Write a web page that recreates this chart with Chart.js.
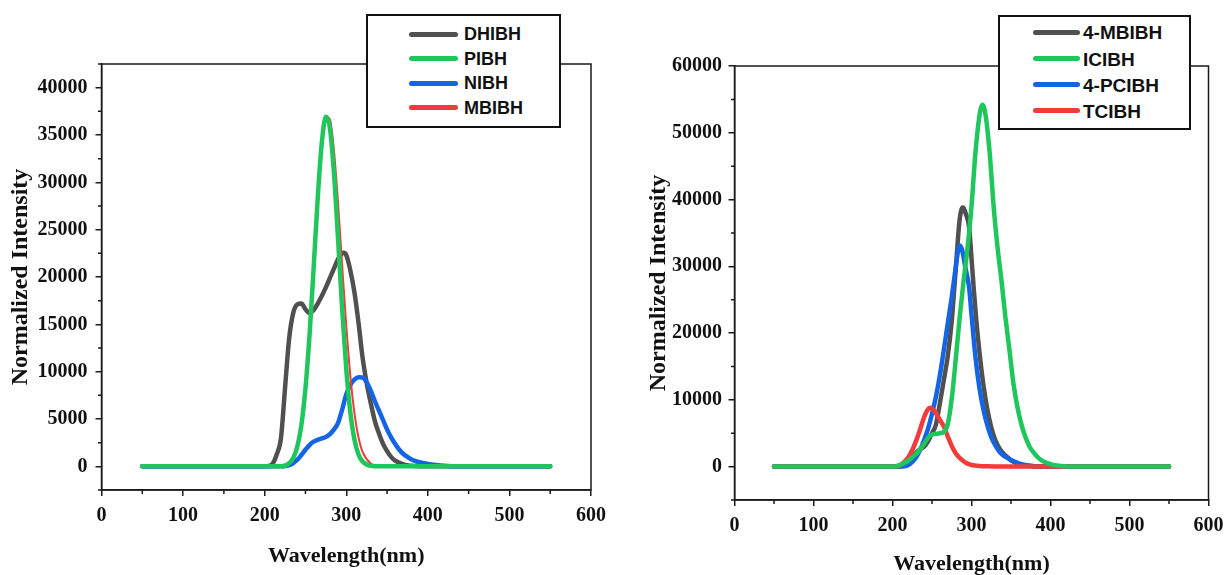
<!DOCTYPE html>
<html>
<head>
<meta charset="utf-8">
<script src="https://cdn.jsdelivr.net/npm/chart.js@4.4.1/dist/chart.umd.min.js"></script>
<style>
  body { margin: 0; background: #fff; width: 1231px; height: 575px; overflow: hidden; position: relative; }
  canvas { position: absolute; top: 0; }
  .legend { position: absolute; background: #fff; border: 2px solid #111; box-sizing: border-box;
            font-family: "Liberation Sans", Arial, sans-serif; font-weight: bold; color: #111; }
  .legend .swatch { position: absolute; height: 5px; border-radius: 3px; margin-top: -2.5px; }
  .legend .label { position: absolute; line-height: 1; transform: translateY(-50%); white-space: nowrap; }
</style>
</head>
<body>
<canvas id="left" width="615" height="575" style="left:0"></canvas>
<canvas id="right" width="616" height="575" style="left:615px"></canvas>
<div id="legendLeft" class="legend"></div>
<div id="legendRight" class="legend"></div>
<script>
// ---- axis ticks ----
const xTicks = [0, 100, 200, 300, 400, 500, 600]
const xMinor = [50, 150, 250, 350, 450, 550]
const yTicksLeft = [0, 5000, 10000, 15000, 20000, 25000, 30000, 35000, 40000]
const yMinorLeft = [-2500, 2500, 7500, 12500, 17500, 22500, 27500, 32500, 37500, 42500]
const yTicksRight = [0, 10000, 20000, 30000, 40000, 50000, 60000]
const yMinorRight = [-5000, 5000, 15000, 25000, 35000, 45000, 55000]

// ---- left panel series (wavelength nm / intensity) ----
const dhibhX = [50, 200, 205, 210, 215, 220, 225, 230, 235, 240, 245, 250, 255, 260, 265, 270, 275, 280, 285, 290, 295, 297, 300, 305, 310, 315, 320, 325, 330, 335, 340, 345, 350, 355, 360, 370, 380, 390, 550]
const dhibhY = [0, 0, 30, 300, 1300, 3000, 8300, 13500, 16200, 17100, 17200, 16600, 16200, 16500, 17200, 18000, 18900, 19900, 20900, 21900, 22500, 22550, 22300, 20700, 18400, 15200, 11500, 8800, 6700, 4800, 3500, 2400, 1600, 1000, 600, 200, 50, 0, 0]

const pibhX = [50, 220, 230, 235, 240, 245, 250, 255, 260, 265, 270, 275, 280, 285, 290, 295, 300, 305, 310, 315, 320, 330, 340, 550]
const pibhY = [0, 0, 330, 890, 2080, 4360, 8250, 13870, 20940, 28270, 34150, 36920, 35700, 30900, 23950, 16600, 10290, 5700, 2830, 1260, 510, 50, 0, 0]

const nibhX = [50, 220, 225, 230, 235, 240, 245, 250, 255, 260, 265, 270, 275, 280, 285, 290, 295, 300, 305, 310, 315, 320, 325, 330, 335, 340, 345, 350, 355, 360, 365, 370, 375, 380, 390, 400, 410, 420, 430, 440, 550]
const nibhY = [0, 0, 30, 120, 350, 700, 1200, 1750, 2250, 2600, 2800, 2950, 3100, 3400, 3900, 4600, 6000, 7600, 8600, 9150, 9400, 9380, 8900, 8000, 6900, 5900, 4900, 3900, 3050, 2350, 1750, 1300, 990, 720, 430, 260, 140, 60, 20, 0, 0]

const mbibhX = [50, 220, 230, 235, 240, 245, 250, 255, 260, 265, 270, 275, 280, 285, 290, 295, 300, 305, 310, 315, 320, 330, 340, 350, 550]
const mbibhY = [0, 0, 380, 940, 2140, 4440, 8180, 13600, 20350, 27560, 33600, 36900, 36640, 33300, 27750, 21200, 14900, 9550, 5650, 3050, 1520, 290, 40, 0, 0]

// ---- right panel series ----
const mbibh4X = [50, 205, 210, 215, 220, 225, 230, 235, 240, 245, 250, 255, 260, 265, 270, 275, 278, 280, 285, 289, 293, 297, 300, 303, 306, 310, 315, 320, 325, 330, 335, 340, 345, 350, 360, 370, 380, 390, 550]
const mbibh4Y = [0, 0, 60, 250, 700, 1400, 2100, 2600, 3000, 3800, 5000, 6300, 9500, 13000, 16600, 21800, 26400, 29500, 37000, 38800, 37800, 35800, 31200, 26400, 22000, 17200, 12300, 8600, 5900, 4000, 2800, 2000, 1450, 950, 400, 120, 30, 0, 0]

const icibhX = [50, 200, 205, 210, 215, 220, 225, 230, 235, 240, 245, 250, 255, 260, 265, 270, 275, 280, 285, 290, 295, 300, 305, 310, 314, 318, 323, 328, 333, 338, 343, 348, 353, 358, 363, 368, 373, 378, 384, 390, 400, 410, 420, 430, 550]
const icibhY = [0, 0, 60, 250, 550, 900, 1400, 1900, 2600, 3400, 4300, 4800, 4900, 5000, 5200, 6400, 10200, 16000, 22300, 27800, 32800, 39000, 47000, 52500, 54200, 52500, 47000, 39000, 32800, 27800, 22300, 17500, 12500, 9000, 6400, 4500, 3100, 2200, 1400, 850, 380, 120, 30, 0, 0]

const pcibh4X = [50, 210, 215, 220, 225, 230, 235, 240, 245, 250, 255, 260, 265, 270, 275, 280, 283, 285, 288, 292, 297, 300, 305, 310, 315, 320, 325, 330, 335, 340, 345, 350, 360, 370, 380, 390, 550]
const pcibh4Y = [0, 0, 50, 250, 700, 1400, 2500, 4000, 5700, 7900, 10500, 13700, 17500, 21500, 25400, 29800, 32300, 33100, 32500, 30000, 26800, 22800, 16400, 11800, 8600, 6200, 4400, 3200, 2300, 1700, 1350, 1000, 500, 220, 60, 0, 0]

const tcibhX = [50, 200, 205, 210, 215, 220, 225, 230, 235, 240, 245, 248, 250, 255, 260, 265, 270, 275, 280, 285, 290, 295, 300, 310, 320, 330, 340, 550]
const tcibhY = [0, 0, 50, 250, 700, 1400, 2500, 3900, 5600, 7400, 8600, 8800, 8700, 8000, 7000, 6000, 4500, 3100, 2000, 1300, 800, 450, 250, 100, 50, 20, 0, 0]

const GRAY = '#505050'
const GREEN = '#1fc65b'
const BLUE = '#1464e6'
const RED = '#f23b3b'
const axisColor = '#1a1a1a'

const serif = '"Liberation Serif", "Times New Roman", serif'
const tickFont = { family: serif, size: 20, weight: 'bold' }
const xTitleFont = { family: serif, size: 22, weight: 'bold' }
const yTitleFont = { family: serif, size: 24, weight: 'bold' }

// box around the plot + the short minor ticks
const framePlugin = {
  id: 'frame',
  afterDraw(chart, args, opts) {
    const { ctx, chartArea: a } = chart
    const xs = chart.scales.x, ys = chart.scales.y
    ctx.save()
    ctx.strokeStyle = axisColor
    ctx.lineWidth = 1.5
    ctx.strokeRect(a.left, a.top, a.right - a.left, a.bottom - a.top)
    ctx.beginPath()
    opts.xMinor.forEach(v => {
      const px = xs.getPixelForValue(v)
      ctx.moveTo(px, a.bottom); ctx.lineTo(px, a.bottom + 4)
    })
    opts.yMinor.forEach(v => {
      const py = ys.getPixelForValue(v)
      ctx.moveTo(a.left, py); ctx.lineTo(a.left - 3.5, py)
    })
    ctx.stroke()
    ctx.restore()
  }
}

function spectrumChart(id, series, o) {
  return new Chart(document.getElementById(id).getContext('2d'), {
    type: 'line',
    data: {
      datasets: series.map(s => ({
        label: s.label,
        data: s.x.map((x, i) => ({ x, y: s.y[i] })),
        borderColor: s.color,
        backgroundColor: s.color,
        borderWidth: s.width,
        order: s.order,
        pointRadius: 0,
        cubicInterpolationMode: 'monotone',
        borderCapStyle: 'round',
        borderJoinStyle: 'round',
        fill: false
      }))
    },
    options: {
      responsive: false,
      animation: false,
      events: [],
      layout: { padding: { left: 0, right: o.padRight, top: o.padTop, bottom: 0 } },
      scales: {
        x: {
          type: 'linear', min: 0, max: 600,
          afterBuildTicks: s => { s.ticks = xTicks.map(v => ({ value: v })) },
          afterFit: s => { s.height = o.xHeight },
          grid: { drawOnChartArea: false, tickLength: 6, color: axisColor, lineWidth: 1.5 },
          border: { color: axisColor, width: 1.5 },
          ticks: { font: tickFont, color: '#111', padding: o.xTickPad, maxRotation: 0, autoSkip: false, callback: v => String(v) },
          title: { display: true, text: 'Wavelength(nm)', font: xTitleFont, color: '#111', padding: { top: 0, bottom: o.xTitlePad } }
        },
        y: {
          type: 'linear', min: o.yMin, max: o.yMax,
          afterBuildTicks: s => { s.ticks = o.yTicks.map(v => ({ value: v })) },
          afterFit: s => { s.width = o.yWidth },
          grid: { drawOnChartArea: false, tickLength: 6, color: axisColor, lineWidth: 1.5 },
          border: { color: axisColor, width: 1.5 },
          ticks: { font: tickFont, color: '#111', padding: o.yTickPad, autoSkip: false, callback: v => String(v) },
          title: { display: true, text: 'Normalized Intensity', font: yTitleFont, color: '#111', padding: { top: o.yTitlePad, bottom: 0 } }
        }
      },
      plugins: {
        legend: { display: false },
        tooltip: { enabled: false },
        frame: { xMinor, yMinor: o.yMinor }
      }
    },
    plugins: [framePlugin]
  })
}

function buildLegend(id, series, o) {
  const box = document.getElementById(id)
  Object.assign(box.style, { left: o.left + 'px', top: o.top + 'px', width: o.width + 'px', height: o.height + 'px', fontSize: o.fontSize + 'px' })
  series.forEach((s, i) => {
    const cy = o.firstRow + i * o.rowGap
    const sw = document.createElement('div')
    sw.className = 'swatch'
    Object.assign(sw.style, { left: o.lineLeft + 'px', width: o.lineWidth + 'px', top: cy + 'px', background: s.color })
    const lb = document.createElement('div')
    lb.className = 'label'
    lb.textContent = s.label
    Object.assign(lb.style, { left: o.textLeft + 'px', top: cy + 'px' })
    box.appendChild(sw)
    box.appendChild(lb)
  })
}

const leftSeries = [
  { label: 'DHIBH', x: dhibhX, y: dhibhY, color: GRAY, width: 4.5, order: 3 },
  { label: 'PIBH', x: pibhX, y: pibhY, color: GREEN, width: 4.5, order: 0 },
  { label: 'NIBH', x: nibhX, y: nibhY, color: BLUE, width: 4.5, order: 2 },
  { label: 'MBIBH', x: mbibhX, y: mbibhY, color: RED, width: 2, order: 1 }
]
const rightSeries = [
  { label: '4-MBIBH', x: mbibh4X, y: mbibh4Y, color: GRAY, width: 4.5, order: 3 },
  { label: 'ICIBH', x: icibhX, y: icibhY, color: GREEN, width: 4.5, order: 0 },
  { label: '4-PCIBH', x: pcibh4X, y: pcibh4Y, color: BLUE, width: 4.5, order: 2 },
  { label: 'TCIBH', x: tcibhX, y: tcibhY, color: RED, width: 4.5, order: 1 }
]

spectrumChart('left', leftSeries, {
  yMin: -2500, yMax: 42500, yTicks: yTicksLeft, yMinor: yMinorLeft,
  padRight: 24, padTop: 64, xHeight: 85, yWidth: 101.5,
  xTickPad: 8, xTitlePad: 5, yTickPad: 8, yTitlePad: 6
})
spectrumChart('right', rightSeries, {
  yMin: -5000, yMax: 60000, yTicks: yTicksRight, yMinor: yMinorRight,
  padRight: 14.5, padTop: 66, xHeight: 75, yWidth: 119.5,
  xTickPad: 7.5, xTitlePad: -3, yTickPad: 6.5, yTitlePad: 29.5
})

buildLegend('legendLeft', leftSeries, {
  left: 366, top: 14, width: 195, height: 114, fontSize: 18,
  firstRow: 18.3, rowGap: 24.5, lineLeft: 41, lineWidth: 49, textLeft: 96
})
buildLegend('legendRight', rightSeries, {
  left: 998, top: 15, width: 193, height: 115, fontSize: 19,
  firstRow: 15.3, rowGap: 26.2, lineLeft: 33, lineWidth: 47, textLeft: 83
})
</script>
</body>
</html>
